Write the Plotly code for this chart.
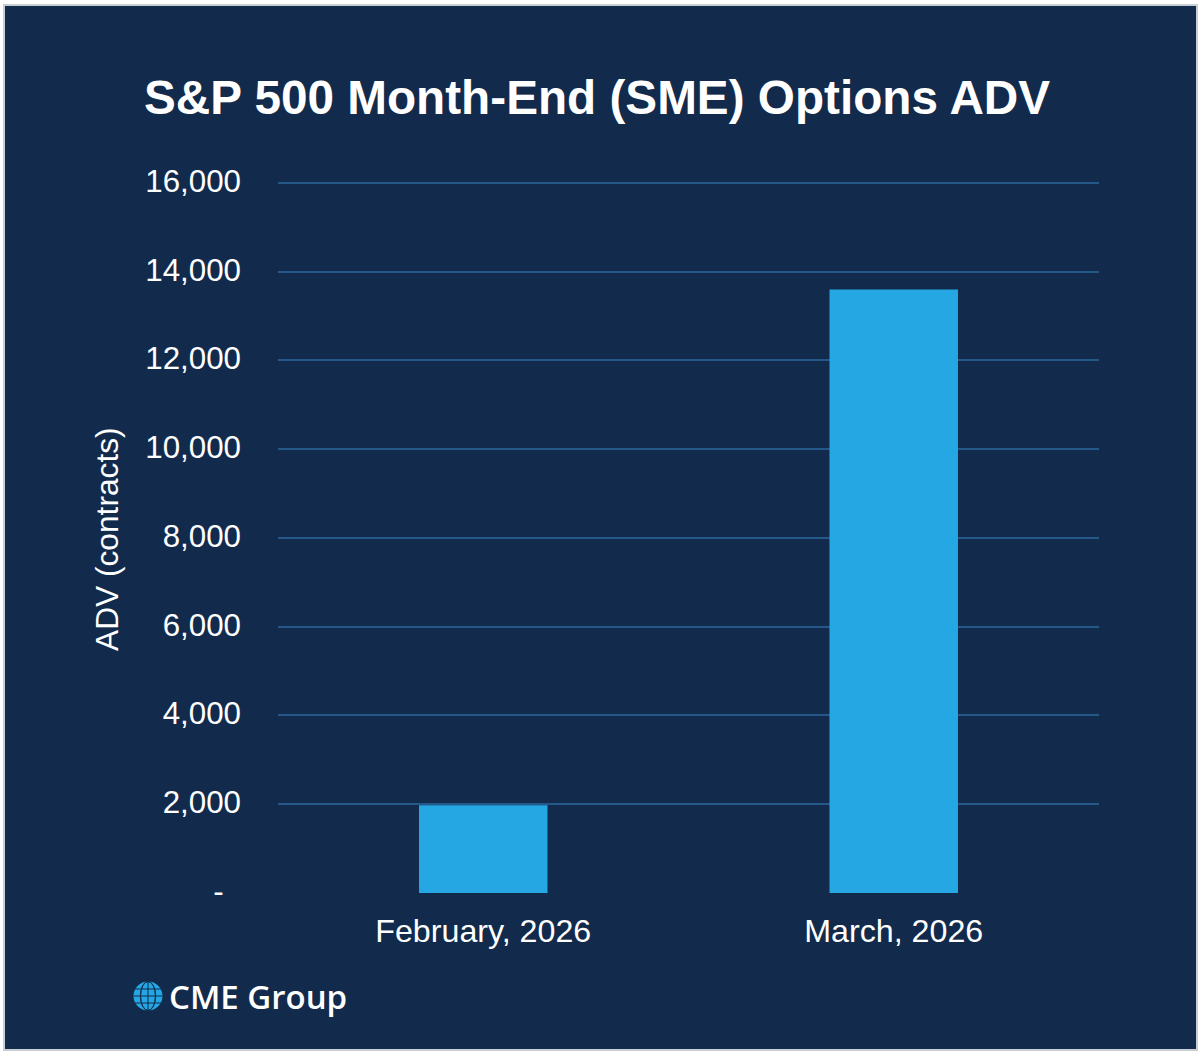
import plotly.graph_objects as go

categories = ["February, 2026", "March, 2026"]
adv_values = [1980, 13600]
tick_values = [0, 2000, 4000, 6000, 8000, 10000, 12000, 14000, 16000]
tick_labels = ["-\u00a0\u00a0", "2,000", "4,000", "6,000", "8,000", "10,000", "12,000", "14,000", "16,000"]

W, H = 1200, 1057
FONT = "Liberation Sans"
L, R, T, B = 278, 1099, 180, 893
NAVY = "#122B4C"
BLUE = "#25A7E3"


def px(x):
    return (x - L) / (R - L)


def py(y):
    return (B - y) / (B - T)


shapes = [dict(type="rect", xref="paper", yref="paper", layer="below",
               x0=px(4), x1=px(1197), y0=py(1050), y1=py(5),
               fillcolor=NAVY, line=dict(color="#C9CED5", width=2))]
# logo globe
gx, gy, gr = 148, 996, 14.5
shapes.append(dict(type="circle", xref="paper", yref="paper", x0=px(gx - gr), x1=px(gx + gr),
                   y0=py(gy + gr), y1=py(gy - gr), fillcolor=BLUE, line_width=0))
for dy in (-7, 0, 7):
    shapes.append(dict(type="line", xref="paper", yref="paper", x0=px(gx - gr), x1=px(gx + gr),
                       y0=py(gy + dy), y1=py(gy + dy), line=dict(color=NAVY, width=1)))
for dx in (-7.5, 7.5):
    shapes.append(dict(type="circle", xref="paper", yref="paper", x0=px(gx - abs(dx)), x1=px(gx + abs(dx)),
                       y0=py(gy + gr), y1=py(gy - gr), line=dict(color=NAVY, width=1)))
shapes.append(dict(type="line", xref="paper", yref="paper", x0=px(gx), x1=px(gx),
                   y0=py(gy + gr), y1=py(gy - gr), line=dict(color=NAVY, width=1)))

fig = go.Figure(go.Bar(x=categories, y=adv_values, marker=dict(color=BLUE, line_width=0), width=0.313))
fig.update_layout(
    width=W, height=H, autosize=False,
    paper_bgcolor="#FFFFFF", plot_bgcolor="rgba(0,0,0,0)",
    margin=dict(l=L, r=W - R, t=T, b=H - B),
    font=dict(family=FONT, color="white", size=31),
    showlegend=False,
    shapes=shapes,
    annotations=[
        dict(text="<b>S&P 500 Month-End (SME) Options ADV</b>", xref="paper", yref="paper",
             x=px(597), y=py(98), xanchor="center", yanchor="middle", showarrow=False,
             font=dict(size=47.7, color="white", family=FONT)),
        dict(text="ADV (contracts)", xref="paper", yref="paper", textangle=-90,
             x=px(107), y=py(539), xanchor="center", yanchor="middle", showarrow=False,
             font=dict(size=31.7, color="white", family=FONT)),
        dict(text="CME Group", xref="paper", yref="paper",
             x=px(167), y=py(996), xanchor="left", yanchor="middle", showarrow=False,
             font=dict(size=33, color="white", family="Open Sans", weight=600)),
    ],
)
fig.update_xaxes(showgrid=False, showline=False, zeroline=False, ticks="", tickfont=dict(size=32.2), ticklabelstandoff=16)
fig.update_yaxes(range=[0, 16067], tickvals=tick_values, ticktext=tick_labels, showgrid=True,
                 gridcolor="#235888", gridwidth=2, zeroline=False, showline=False, ticks="",
                 tickfont=dict(size=31.3), ticklabelstandoff=36, ticklabelshift=-2)
fig.write_html("out.html", post_script="document.body.style.margin='0';",
               config={"displayModeBar": False})
